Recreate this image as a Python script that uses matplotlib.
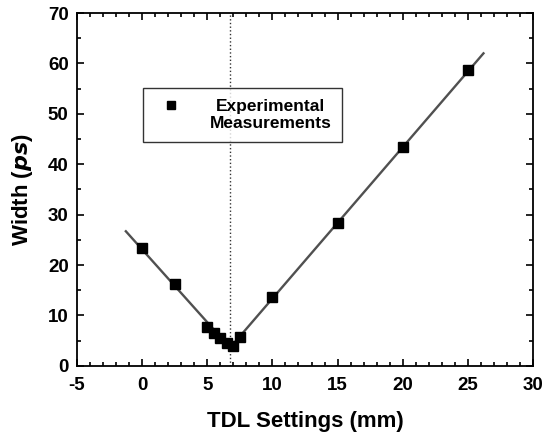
import numpy as np
import matplotlib.pyplot as plt
from matplotlib.ticker import MultipleLocator

plt.rcParams['font.family'] = ['Liberation Sans', 'DejaVu Sans']
plt.rcParams['font.weight'] = 'bold'
plt.rcParams['axes.unicode_minus'] = False

# measured points
tdl_mm = [0, 2.5, 5, 5.5, 6, 6.5, 7, 7.5, 10, 15, 20, 25]
width_ps = [23.4, 16.3, 7.8, 6.6, 5.6, 4.6, 4.0, 5.7, 13.7, 28.3, 43.5, 58.6]

# fitted V lines (endpoints)
fit_x = [-1.25, 6.75, 26.2]
fit_y = [26.7, 3.6, 62.0]

# minimum position
x_min = 6.72

fig, ax = plt.subplots(figsize=(5.48, 4.34), dpi=100)
fig.subplots_adjust(left=0.1405, right=0.9726, top=0.970, bottom=0.157)

ax.plot(fit_x, fit_y, color='#505050', linewidth=1.7, zorder=2)
ax.axvline(x_min, color='#333333', linestyle=':', linewidth=1.0, zorder=1)
ax.plot(tdl_mm, width_ps, linestyle='none', marker='s', markersize=7.5,
        color='black', label='Experimental\nMeasurements', zorder=3)

ax.set_xlim(-5, 30)
ax.set_ylim(0, 70)
ax.xaxis.set_major_locator(MultipleLocator(5))
ax.xaxis.set_minor_locator(MultipleLocator(1))
ax.yaxis.set_major_locator(MultipleLocator(10))
ax.yaxis.set_minor_locator(MultipleLocator(5))
ax.tick_params(which='both', direction='in', top=True, right=True, width=1.2)
ax.tick_params(which='major', length=5, labelsize=13.5)
ax.tick_params(which='minor', length=3)
ax.tick_params(axis='x', which='major', pad=8)
ax.tick_params(axis='y', which='major', pad=6)
for s in ax.spines.values():
    s.set_linewidth(1.3)

ax.set_xlabel('TDL Settings (mm)', fontsize=16, fontweight='bold', labelpad=12)
ax.set_ylabel('Width ($\\mathbfit{ps}$)', fontsize=16, fontweight='bold', labelpad=9)

leg = ax.legend(loc='upper left', bbox_to_anchor=(0.145, 0.788), fontsize=12.5,
                frameon=True, fancybox=False, edgecolor='black', borderaxespad=0,
                handletextpad=1.2, borderpad=0.62, markerscale=0.75)
leg.get_frame().set_linewidth(1.0)
for t in leg.get_texts():
    t.set_fontweight('bold')
    t.set_multialignment('center')
# marker sits next to the first line of text
h = leg.legend_handles[0]
h.set_ydata(np.asarray(h.get_ydata()) + 7)

plt.savefig('out.png', dpi=100)
